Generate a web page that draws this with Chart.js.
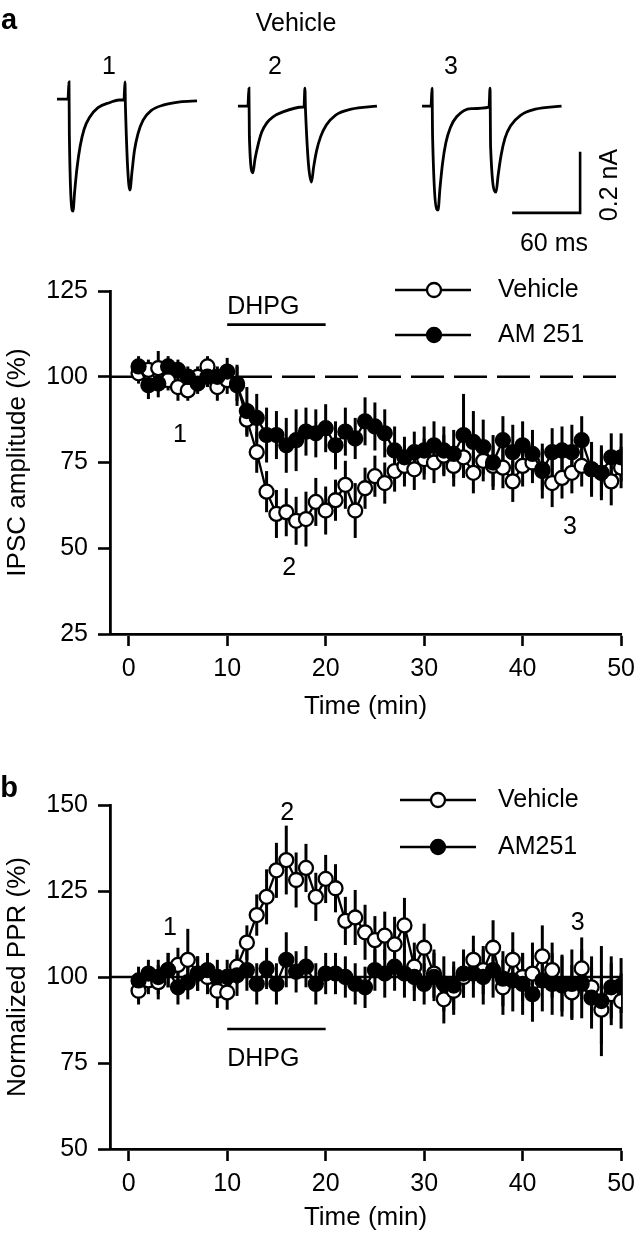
<!DOCTYPE html>
<html>
<head>
<meta charset="utf-8">
<script src="https://cdn.jsdelivr.net/npm/chart.js@4.4.1/dist/chart.umd.min.js"></script>
<style>
  html, body { margin: 0; padding: 0; background: #fff; }
  #page { position: relative; width: 643px; height: 1234px; overflow: hidden;
          font-family: "Liberation Sans", Arial, sans-serif; color: #000; }
  canvas { position: absolute; left: 0; }
  .t { position: absolute; white-space: nowrap; line-height: 1; font-size: 25px;
       transform: translate(-50%, -50%); }
  .b { font-weight: bold; font-size: 29px; }
</style>
</head>
<body>
<div id="page">
  <canvas id="traces" width="643" height="250" style="top:0;width:643px;height:250px"></canvas>
  <canvas id="ipsc" width="643" height="480" style="top:260px;width:643px;height:480px"></canvas>
  <canvas id="ppr" width="643" height="484" style="top:750px;width:643px;height:484px"></canvas>

  <div class="t b" style="left:9px;top:19px">a</div>
  <div class="t" style="left:296px;top:22px">Vehicle</div>
  <div class="t" style="left:109px;top:65px">1</div>
  <div class="t" style="left:275px;top:65px">2</div>
  <div class="t" style="left:451px;top:65px">3</div>
  <div class="t" style="left:554px;top:242px">60 ms</div>
  <div class="t" style="left:608px;top:185px;transform:translate(-50%,-50%) rotate(-90deg)">0.2 nA</div>
  <div class="t b" style="left:9px;top:787px">b</div>
</div>

<script>
const FONT = '"Liberation Sans", Arial, sans-serif';

// ---- data ----
const minutes = [1,2,3,4,5,6,7,8,9,10,11,12,13,14,15,16,17,18,19,20,21,22,23,24,25,
                 26,27,28,29,30,31,32,33,34,35,36,37,38,39,40,41,42,43,44,45,46,47,48,49,50];
const timeTicks = [0, 10, 20, 30, 40, 50];

// IPSC amplitude (%)
const ipscTicks = [25, 50, 75, 100, 125];
const ipscVehicle = [101,102,102.5,99,97,96,100,103,97,99,
                     98,87.5,78,66.5,60,60.5,58,58.5,63.5,61,
                     64,68.5,61,67.5,71,69,72.5,74,73,76,
                     75,77,74,76.5,72,75.5,74,73.5,69.5,74,
                     75,73,69,70.5,72,74,73,72,69.5,73.5];
const ipscVehicleSem = [3,3,5,3,4,3,3,3,4,4,5,5,6,6,7,7,7,8,7,7,
                        6,7,8,6,6,6,6,6,6,6,6,6,6,6,6,6,6,6,6,6,
                        6,6,7,6,6,6,7,7,7,6];
const ipscAM251 = [103,97.5,98,103,102,100,98,100,100,101.5,
                   97.5,90,88,83,83,80,81.5,84,83.5,85,
                   80,84,82,87,85.5,83.5,78.5,76.5,78,78.5,
                   80,78.5,77.5,83,81,79.5,75,81.5,78,80,
                   77.5,72.5,78,78.5,78,81.5,73,72,76.5,76.5];
const ipscAM251Sem = [3,4,4,3,3,3,3,3,3,4,6,7,7,8,7,8,9,7,7,7,
                      7,7,6,7,7,7,7,6,6,7,7,7,7,12,9,8,8,7,8,7,
                      7,8,7,7,8,7,8,8,7,7];

// Normalized PPR (%)
const pprTicks = [50, 75, 100, 125, 150];
const pprVehicle = [96,99,98.5,102,103.5,105,101,100,96,95.5,
                    103,110,118,123.3,131,134,128.2,131.7,123.3,128.5,
                    125.8,116.3,117.3,113,110.7,112,109.5,115,103,108.5,
                    101,93.5,96,100,105,102,108.5,97,105,100,
                    101,106,102,98,95.5,102.5,97,90.5,95,93];
const pprVehicleSem = [4,4,5,5,5,9,5,5,5,5,5,5,6,8,8,10,8,7,7,7,
                       7,7,8,8,7,7,8,8,7,7,7,7,7,6,7,7,8,8,8,7,
                       9,9,8,8,8,9,9,10,9,8];
const pprAM251 = [99,101,100,102,97,98.5,101,102,100,100,
                  100.5,102,98,102.5,98,105,101.5,103,98,101,
                  101,100,98,97,102,101,103,101,100,98,
                  100,98,97.5,101,101,100,102,99.5,99,98,
                  95,99,98,97.5,98,98,94,93,97,97.5];
const pprAM251Sem = [4,4,5,5,5,5,5,5,5,5,6,6,6,6,6,8,6,6,6,6,
                     6,6,6,6,6,7,7,7,7,6,7,8,7,7,7,8,8,8,9,9,
                     8,9,9,9,10,10,9,16,9,8];

// Example IPSC traces (time in ms, current in nA)
const trace1Ms = [0,9.7,10.6,10.9,14.1,15.6,17.6,20.5,24.0,28.5,36.2,46.8,54.7,59.1,60.0,60.4,64.4,66.2,68.4,71.5,76.0,83.0,94.4,108.6,123.6];
const trace1nA = [0.003,0.003,0.059,-0.115,-0.364,-0.3,-0.225,-0.15,-0.095,-0.058,-0.025,-0.008,0,0,0.059,-0.02,-0.295,-0.235,-0.165,-0.11,-0.066,-0.035,-0.016,-0.006,-0.003];
const trace2Ms = [0,8.8,9.7,10.1,13.2,15.0,17.7,21.0,25.5,31.0,39.7,57.4,58.3,59.1,59.6,64.9,66.8,69.5,73.0,78.0,86.0,100.0,122.7];
const trace2nA = [-0.02,-0.02,0.039,-0.121,-0.239,-0.195,-0.148,-0.105,-0.075,-0.055,-0.039,-0.023,-0.023,0.039,-0.03,-0.269,-0.22,-0.165,-0.12,-0.082,-0.05,-0.03,-0.02];
const trace3Ms = [0,7.9,8.8,9.3,14.1,15.8,18.0,21.0,25.0,30.5,43.2,59.1,60.0,60.5,65.3,67.2,69.8,73.2,78.0,86.9,100.0,123.1];
const trace3nA = [-0.02,-0.02,0.039,-0.121,-0.361,-0.29,-0.21,-0.14,-0.09,-0.055,-0.028,-0.023,0.039,-0.154,-0.302,-0.245,-0.18,-0.125,-0.085,-0.05,-0.03,-0.02];
const scaleBarMs = 60;
const scaleBarnA = 0.2;

// ---- traces ----
function tracePoints(ms, nA, offset) {
  return ms.map((t, i) => ({ x: t + offset, y: nA[i] }));
}
const traceStyle = { borderColor: '#000', borderWidth: 2.8, pointRadius: 0, cubicInterpolationMode: 'monotone', fill: false };
const barX = 452, barY = -0.37; // scale bar corner placement

new Chart(document.getElementById('traces'), {
  type: 'line',
  data: {
    datasets: [
      { ...traceStyle, data: tracePoints(trace1Ms, trace1nA, 50.3) },
      { ...traceStyle, data: tracePoints(trace2Ms, trace2nA, 210) },
      { ...traceStyle, data: tracePoints(trace3Ms, trace3nA, 372.5) },
      { borderColor: '#000', borderWidth: 2.6, pointRadius: 0, tension: 0, fill: false,
        data: [{ x: barX, y: barY }, { x: barX + scaleBarMs, y: barY }, { x: barX + scaleBarMs, y: barY + scaleBarnA }] }
    ]
  },
  options: {
    responsive: false, animation: false,
    layout: { padding: 0 },
    plugins: { legend: { display: false }, tooltip: { enabled: false } },
    scales: {
      x: { type: 'linear', display: false, min: 0, max: 567.5 },
      y: { display: false, min: -0.4918, max: 0.3279 }
    }
  }
});

// ---- panel extras: error bars, reference line, DHPG bar, labels, legend ----
const panelExtras = {
  id: 'panelExtras',
  beforeDatasetsDraw(chart, args, opts) {
    const { ctx, chartArea, scales: { x, y } } = chart;
    ctx.save();
    ctx.strokeStyle = '#000';
    // baseline at 100 %
    ctx.lineWidth = 2.6;
    ctx.setLineDash(opts.refDash);
    ctx.beginPath();
    ctx.moveTo(chartArea.left, y.getPixelForValue(100));
    ctx.lineTo(x.getPixelForValue(50), y.getPixelForValue(100));
    ctx.stroke();
    ctx.setLineDash([]);
    // error bars
    ctx.lineWidth = 3;
    chart.data.datasets.forEach(ds => {
      ds.data.forEach((p, j) => {
        const px = x.getPixelForValue(p.x);
        ctx.beginPath();
        ctx.moveTo(px, y.getPixelForValue(p.y + ds.sem[j]));
        ctx.lineTo(px, y.getPixelForValue(p.y - ds.sem[j]));
        ctx.stroke();
      });
    });
    ctx.restore();
  },
  afterDraw(chart, args, opts) {
    const { ctx, scales: { x, y } } = chart;
    ctx.save();
    ctx.fillStyle = '#000';
    ctx.strokeStyle = '#000';
    // DHPG application bar
    const d = opts.dhpg;
    ctx.lineWidth = 2.6;
    ctx.beginPath();
    ctx.moveTo(x.getPixelForValue(10), y.getPixelForValue(d.barY));
    ctx.lineTo(x.getPixelForValue(20), y.getPixelForValue(d.barY));
    ctx.stroke();
    ctx.font = '25px ' + FONT;
    ctx.textBaseline = 'middle';
    ctx.textAlign = 'left';
    ctx.fillText('DHPG', x.getPixelForValue(10), y.getPixelForValue(d.textY));
    // time-point labels
    ctx.textAlign = 'center';
    opts.labels.forEach(l => ctx.fillText(l.text, x.getPixelForValue(l.x), y.getPixelForValue(l.y)));
    // legend
    opts.legend.forEach(l => {
      ctx.lineWidth = 2.4;
      ctx.beginPath();
      ctx.moveTo(l.x1, l.y); ctx.lineTo(l.x2, l.y);
      ctx.stroke();
      ctx.beginPath();
      ctx.arc(l.mx, l.y, 7, 0, Math.PI * 2);
      ctx.fillStyle = l.fill;
      ctx.fill();
      ctx.lineWidth = 2.3;
      ctx.stroke();
      ctx.fillStyle = '#000';
      ctx.textAlign = 'left';
      ctx.fillText(l.text, 498, l.y);
    });
    ctx.restore();
  }
};

function series(values, sem, fill, order) {
  return {
    data: minutes.map((m, i) => ({ x: m, y: values[i] })),
    sem: sem,
    borderColor: '#000', borderWidth: 2.3, tension: 0,
    pointRadius: 7, pointBorderWidth: 2.3, pointBorderColor: '#000',
    pointBackgroundColor: fill, order: order, fill: false
  };
}

function panelOptions(cfg) {
  return {
    responsive: false, animation: false,
    layout: { padding: { left: 0, right: 13, top: cfg.padTop, bottom: cfg.padBottom } },
    plugins: { legend: { display: false }, tooltip: { enabled: false }, panelExtras: cfg.extras },
    scales: {
      x: {
        type: 'linear', min: -1.9, max: 50,
        afterBuildTicks: s => { s.ticks = timeTicks.map(v => ({ value: v })); },
        afterFit: s => { s.height = cfg.xHeight; },
        grid: { drawOnChartArea: false, drawTicks: true, tickLength: 12, tickWidth: 2.6, tickColor: '#000' },
        border: { display: true, color: '#000', width: 2.8 },
        ticks: { color: '#000', font: { size: 25, family: FONT }, padding: 8, maxRotation: 0 },
        title: { display: true, text: 'Time (min)', color: '#000', font: { size: 26, family: FONT }, padding: 0 }
      },
      y: {
        type: 'linear', min: cfg.yTicks[0], max: cfg.yTicks[cfg.yTicks.length - 1],
        afterBuildTicks: s => { s.ticks = cfg.yTicks.map(v => ({ value: v })); },
        afterFit: s => { s.width = 110; },
        grid: { drawOnChartArea: false, drawTicks: true, tickLength: 12, tickWidth: 2.6, tickColor: '#000' },
        border: { display: true, color: '#000', width: 2.8 },
        ticks: { color: '#000', font: { size: 25, family: FONT }, padding: 10 },
        title: { display: true, text: cfg.yTitle, color: '#000', font: { size: 26, family: FONT }, padding: { top: 2, bottom: 0 } }
      }
    }
  };
}

new Chart(document.getElementById('ipsc'), {
  type: 'line',
  data: { datasets: [series(ipscVehicle, ipscVehicleSem, '#fff', 2), series(ipscAM251, ipscAM251Sem, '#000', 1)] },
  options: panelOptions({
    padTop: 31, padBottom: 17.4, xHeight: 88.6, yTicks: ipscTicks, yTitle: 'IPSC amplitude (%)',
    extras: {
      refDash: [33, 10],
      dhpg: { barY: 115.2, textY: 120.4 },
      labels: [{ text: '1', x: 5.2, y: 83.1 }, { text: '2', x: 16.3, y: 44.3 }, { text: '3', x: 44.8, y: 56.3 }],
      legend: [
        { text: 'Vehicle', y: 30, x1: 395, x2: 471, mx: 434, fill: '#fff' },
        { text: 'AM 251', y: 75, x1: 395, x2: 471, mx: 434, fill: '#000' }
      ]
    }
  }),
  plugins: [panelExtras]
});

new Chart(document.getElementById('ppr'), {
  type: 'line',
  data: { datasets: [series(pprVehicle, pprVehicleSem, '#fff', 2), series(pprAM251, pprAM251Sem, '#000', 1)] },
  options: panelOptions({
    padTop: 55, padBottom: 0.4, xHeight: 84.6, yTicks: pprTicks, yTitle: 'Normalized PPR (%)',
    extras: {
      refDash: [],
      dhpg: { barY: 84.9, textY: 76.2 },
      labels: [{ text: '1', x: 4.2, y: 114.2 }, { text: '2', x: 16.1, y: 147.7 }, { text: '3', x: 45.6, y: 115.7 }],
      legend: [
        { text: 'Vehicle', y: 50, x1: 400, x2: 476, mx: 438, fill: '#fff' },
        { text: 'AM251', y: 97, x1: 400, x2: 476, mx: 438, fill: '#000' }
      ]
    }
  }),
  plugins: [panelExtras]
});
</script>
</body>
</html>
